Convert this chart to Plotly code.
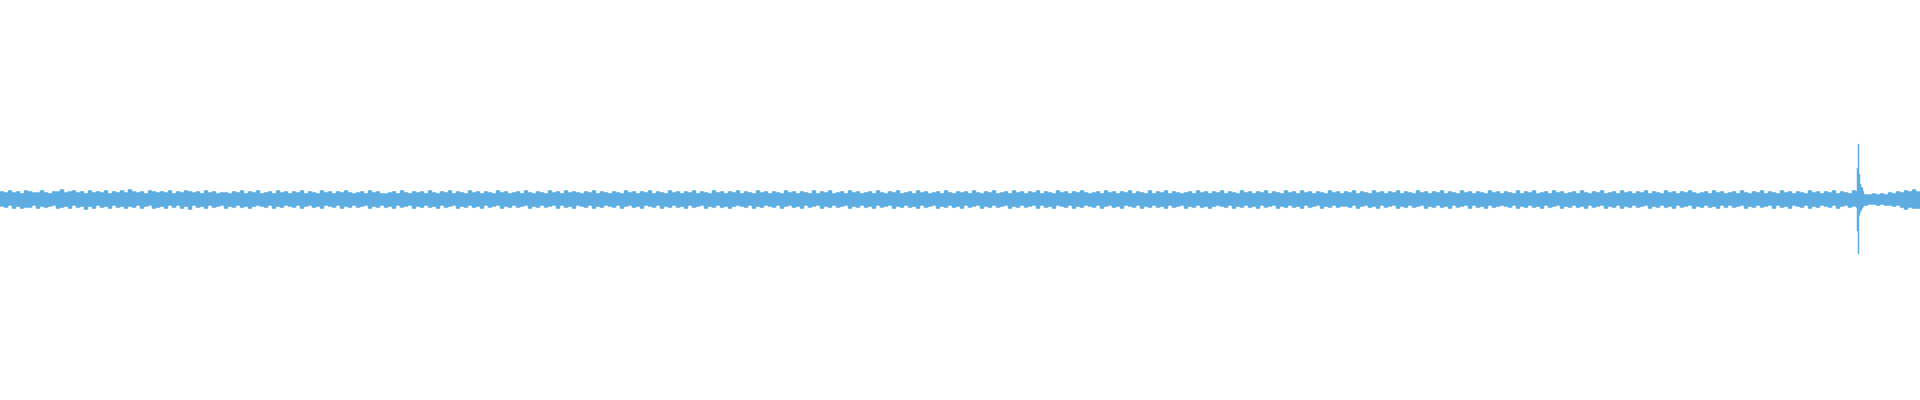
import numpy as np
import plotly.graph_objects as go

# Envelope of the waveform, one digit per 4-sample block.
# value (in pixel-sized amplitude units) = digit + 2
TOP_DIGITS = (
    "657564765575466856756475657465758656476565746576"
    "564756455465746574564756465746547564657545647564"
    "456475465647546574654756465475645647546547564756"
    "546574654654756465746547564657465475646574654756"
    "465475646547465745647564564754657456475645647546"
    "564754657456475646574654756465754564756465746547"
    "465746545647564657465475646574654756475646547564"
    "657465475646574654756465746547564654756465474657"
    "456475645647546574564756465746547564657545647564"
    "564754657465475646547564657465475533434354657686"
)
BOT_DIGITS = (
    "564757664756547657465857465746575647547657464758"
    "465746547564657545647564564754657456475646547564"
    "657465475646574654756465746547564654756465474657"
    "456475645647546574564756465746547564657545647564"
    "564754657465475646547564657465475646574654756465"
    "746547564654756465474657456475645647546574564756"
    "465746547564657545647564657465475646574654756465"
    "564754657465475646547564657465474657465456475646"
    "574654756465746547564756465475646574654756465746"
    "465475646547465745647564564754655543343445468677"
)
BLOCK = 4  # samples per envelope digit

# Transient near the end (sample index, amplitude above, amplitude below)
SPIKE_SAMPLES = [1856, 1857, 1858, 1859, 1860, 1861, 1862, 1863]
SPIKE_TOP = [8, 31.5, 55.5, 25.5, 15.5, 12.5, 11.5, 8]
SPIKE_BOT = [8, 31.5, 54.5, 15.5, 12.5, 10.5, 8.5, 7]

N_SAMPLES = 1920
COLOR = "#5DADE2"

top = np.array([int(c) + 2 for c in TOP_DIGITS], dtype=float)
bot = np.array([int(c) + 2 for c in BOT_DIGITS], dtype=float)
n = min(len(top), len(bot))
top, bot = top[:n], bot[:n]
x = np.arange(n + 1) * BLOCK
top_y = np.append(top, top[-1])
bot_y = -np.append(bot, bot[-1])

sx = np.append(np.array(SPIKE_SAMPLES, dtype=float), SPIKE_SAMPLES[-1] + 1)
st = np.append(np.array(SPIKE_TOP, dtype=float), SPIKE_TOP[-1])
sb = -np.append(np.array(SPIKE_BOT, dtype=float), SPIKE_BOT[-1])

fig = go.Figure()
fig.add_trace(go.Scatter(x=x, y=top_y, mode="lines", line=dict(color=COLOR, width=0.5, shape="hv"),
                         hoverinfo="skip", showlegend=False))
fig.add_trace(go.Scatter(x=x, y=bot_y, mode="lines", line=dict(color=COLOR, width=0.5, shape="hv"),
                         fill="tonexty", fillcolor=COLOR, hoverinfo="skip", showlegend=False))
fig.add_trace(go.Scatter(x=sx, y=st, mode="lines", line=dict(color=COLOR, width=0.5, shape="hv"),
                         hoverinfo="skip", showlegend=False))
fig.add_trace(go.Scatter(x=sx, y=sb, mode="lines", line=dict(color=COLOR, width=0.5, shape="hv"),
                         fill="tonexty", fillcolor=COLOR, hoverinfo="skip", showlegend=False))

fig.update_layout(
    width=1920, height=400,
    margin=dict(l=0, r=0, t=0, b=0),
    paper_bgcolor="white", plot_bgcolor="white",
    xaxis=dict(range=[0, N_SAMPLES], visible=False, fixedrange=True),
    yaxis=dict(range=[-200.5, 199.5], visible=False, fixedrange=True),
)
fig.write_html(
    "out.html",
    config={"displayModeBar": False},
    post_script="document.body.style.margin='0';document.body.style.overflow='hidden';",
)
